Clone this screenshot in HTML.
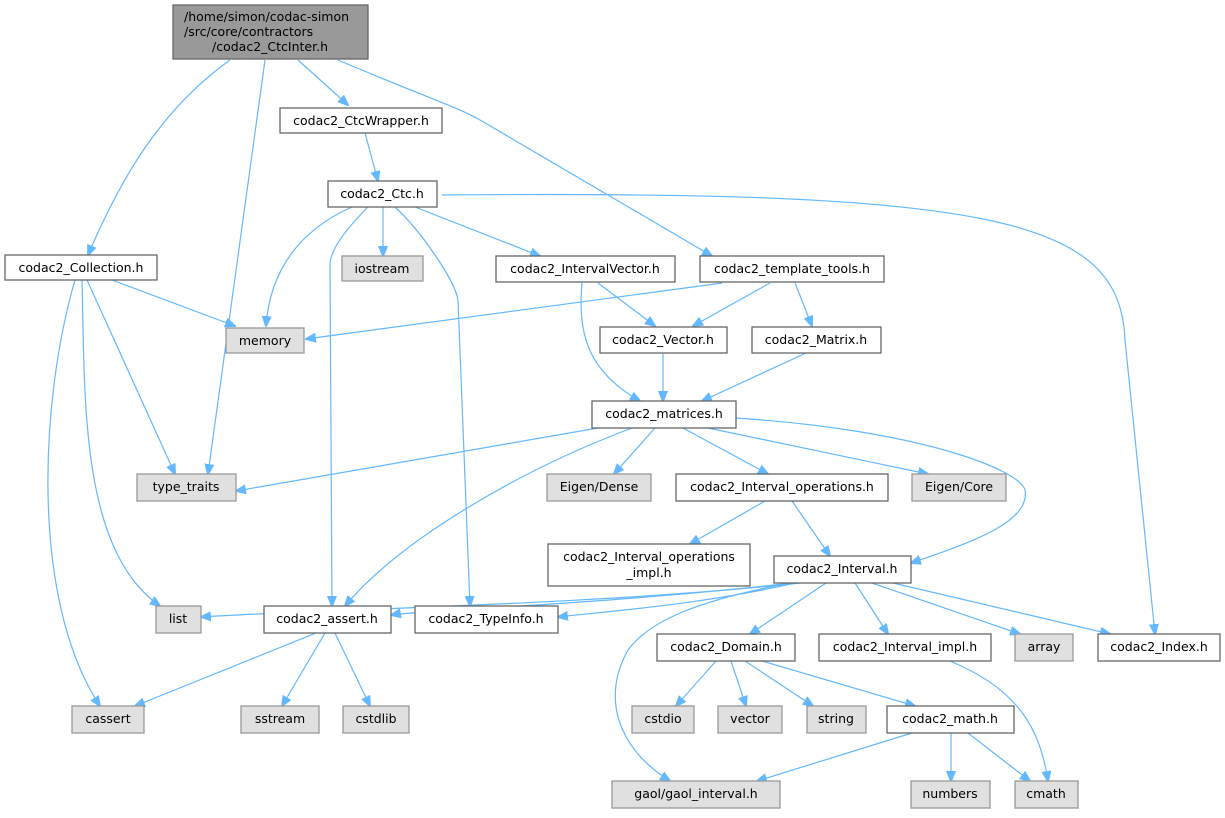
<!DOCTYPE html>
<html><head><meta charset="utf-8"><style>
body{margin:0;background:#fff}
svg text{font-family:"DejaVu Sans","Liberation Sans",sans-serif;font-size:12.5px;fill:#000;text-anchor:middle}
.n{fill:#fff;stroke:#666;stroke-width:1.3}
.g{fill:#e0e0e0;stroke:#999;stroke-width:1.3}
.e{fill:none;stroke:#63b8ff;stroke-width:1.2;marker-end:url(#a)}
</style></head><body>
<svg width="1225" height="813" viewBox="0 0 1225 813" xmlns="http://www.w3.org/2000/svg">
<defs><marker id="a" viewBox="0 0 10 10" refX="9" refY="5" markerWidth="11" markerHeight="11" markerUnits="userSpaceOnUse" orient="auto"><path d="M0,1 L10,5 L0,9 z" fill="#63b8ff" stroke="#63b8ff"/></marker></defs>
<path class="e" d="M230,60 C160,110 120,180 88,255"/>
<path class="e" d="M265,60 L208,474"/>
<path class="e" d="M298,60 L348,105"/>
<path class="e" d="M338,60 C420,95 460,108 480,120 L712,256"/>
<path class="e" d="M365,133 L378,181"/>
<path class="e" d="M352,207 C300,230 270,270 266,326"/>
<path class="e" d="M368,207 C345,230 330,250 330,265 L332,606"/>
<path class="e" d="M383,207 L383,256"/>
<path class="e" d="M395,207 C420,230 455,280 458,300 L470,606"/>
<path class="e" d="M415,207 L540,256"/>
<path class="e" d="M442,195 C1000,190 1120,220 1125,340 L1155,634"/>
<path class="e" d="M112,280 L235,326"/>
<path class="e" d="M87,280 L175,474"/>
<path class="e" d="M82,280 C85,400 80,550 160,606"/>
<path class="e" d="M75,280 C40,400 30,600 100,706"/>
<path class="e" d="M722,283 L306,339"/>
<path class="e" d="M770,283 L693,326"/>
<path class="e" d="M795,283 L812,326"/>
<path class="e" d="M598,283 L655,326"/>
<path class="e" d="M582,283 C578,330 585,370 640,401"/>
<path class="e" d="M663,353 L663,401"/>
<path class="e" d="M806,353 L702,401"/>
<path class="e" d="M598,428 L236,491"/>
<path class="e" d="M632,428 C520,470 400,540 345,606"/>
<path class="e" d="M655,428 L614,474"/>
<path class="e" d="M683,428 L768,474"/>
<path class="e" d="M708,428 L928,474"/>
<path class="e" d="M736,418 C920,430 1020,470 1025,490 C1030,520 980,540 911,563"/>
<path class="e" d="M765,501 L690,544"/>
<path class="e" d="M792,501 L830,556"/>
<path class="e" d="M800,583 C600,605 300,610 201,617"/>
<path class="e" d="M792,583 C600,605 420,610 391,615"/>
<path class="e" d="M795,583 C700,605 600,612 558,617"/>
<path class="e" d="M790,583 C700,600 650,620 628,650 C600,700 620,750 670,781"/>
<path class="e" d="M826,583 L750,634"/>
<path class="e" d="M855,583 L888,634"/>
<path class="e" d="M872,583 L1020,634"/>
<path class="e" d="M893,583 L1110,634"/>
<path class="e" d="M316,633 L135,706"/>
<path class="e" d="M325,633 L282,706"/>
<path class="e" d="M335,633 L370,706"/>
<path class="e" d="M716,661 L676,706"/>
<path class="e" d="M731,661 L746,706"/>
<path class="e" d="M745,661 L813,706"/>
<path class="e" d="M762,661 L915,706"/>
<path class="e" d="M950,661 C1020,690 1040,730 1048,781"/>
<path class="e" d="M912,733 L757,781"/>
<path class="e" d="M951,733 L951,781"/>
<path class="e" d="M968,733 L1030,781"/>
<rect x="173" y="5" width="195" height="54" fill="#999" stroke="#666" stroke-width="1.3"/>
<text x="184" y="21" style="text-anchor:start">/home/simon/codac-simon</text>
<text x="184" y="36" style="text-anchor:start">/src/core/contractors</text>
<text x="270" y="51">/codac2_CtcInter.h</text>
<rect class="n" x="280" y="108" width="162" height="25"/><text x="361" y="125">codac2_CtcWrapper.h</text>
<rect class="n" x="328" y="181" width="109" height="26"/><text x="382" y="198">codac2_Ctc.h</text>
<rect class="n" x="5" y="255" width="152" height="25"/><text x="81" y="272">codac2_Collection.h</text>
<rect class="g" x="342" y="256" width="81" height="25"/><text x="382" y="273">iostream</text>
<rect class="n" x="496" y="256" width="179" height="26"/><text x="585" y="273">codac2_IntervalVector.h</text>
<rect class="n" x="700" y="256" width="184" height="26"/><text x="792" y="273">codac2_template_tools.h</text>
<rect class="g" x="226" y="328" width="78" height="25"/><text x="265" y="345">memory</text>
<rect class="n" x="600" y="327" width="127" height="26"/><text x="663" y="344">codac2_Vector.h</text>
<rect class="n" x="752" y="327" width="129" height="26"/><text x="816" y="344">codac2_Matrix.h</text>
<rect class="n" x="592" y="401" width="144" height="27"/><text x="664" y="418">codac2_matrices.h</text>
<rect class="g" x="137" y="474" width="99" height="27"/><text x="186" y="491">type_traits</text>
<rect class="g" x="547" y="474" width="104" height="27"/><text x="599" y="491">Eigen/Dense</text>
<rect class="n" x="676" y="474" width="212" height="27"/><text x="782" y="491">codac2_Interval_operations.h</text>
<rect class="g" x="912" y="474" width="94" height="27"/><text x="959" y="491">Eigen/Core</text>
<rect class="n" x="548" y="544" width="202" height="42"/><text x="649" y="561">codac2_Interval_operations</text><text x="649" y="577">_impl.h</text>
<rect class="n" x="774" y="556" width="137" height="27"/><text x="842" y="573">codac2_Interval.h</text>
<rect class="g" x="156" y="606" width="45" height="27"/><text x="178" y="623">list</text>
<rect class="n" x="264" y="606" width="127" height="27"/><text x="327" y="623">codac2_assert.h</text>
<rect class="n" x="415" y="606" width="143" height="27"/><text x="486" y="623">codac2_TypeInfo.h</text>
<rect class="n" x="657" y="634" width="138" height="27"/><text x="726" y="651">codac2_Domain.h</text>
<rect class="n" x="819" y="634" width="172" height="27"/><text x="905" y="651">codac2_Interval_impl.h</text>
<rect class="g" x="1015" y="634" width="58" height="27"/><text x="1044" y="651">array</text>
<rect class="n" x="1098" y="634" width="122" height="27"/><text x="1159" y="651">codac2_Index.h</text>
<rect class="g" x="72" y="706" width="72" height="27"/><text x="108" y="723">cassert</text>
<rect class="g" x="241" y="706" width="78" height="27"/><text x="280" y="723">sstream</text>
<rect class="g" x="343" y="706" width="66" height="27"/><text x="376" y="723">cstdlib</text>
<rect class="g" x="632" y="706" width="62" height="27"/><text x="663" y="723">cstdio</text>
<rect class="g" x="718" y="706" width="64" height="27"/><text x="750" y="723">vector</text>
<rect class="g" x="807" y="706" width="59" height="27"/><text x="836" y="723">string</text>
<rect class="n" x="887" y="706" width="127" height="27"/><text x="950" y="723">codac2_math.h</text>
<rect class="g" x="612" y="781" width="168" height="27"/><text x="696" y="798">gaol/gaol_interval.h</text>
<rect class="g" x="911" y="781" width="79" height="27"/><text x="950" y="798">numbers</text>
<rect class="g" x="1015" y="781" width="63" height="27"/><text x="1046" y="798">cmath</text>
</svg>
</body></html>
